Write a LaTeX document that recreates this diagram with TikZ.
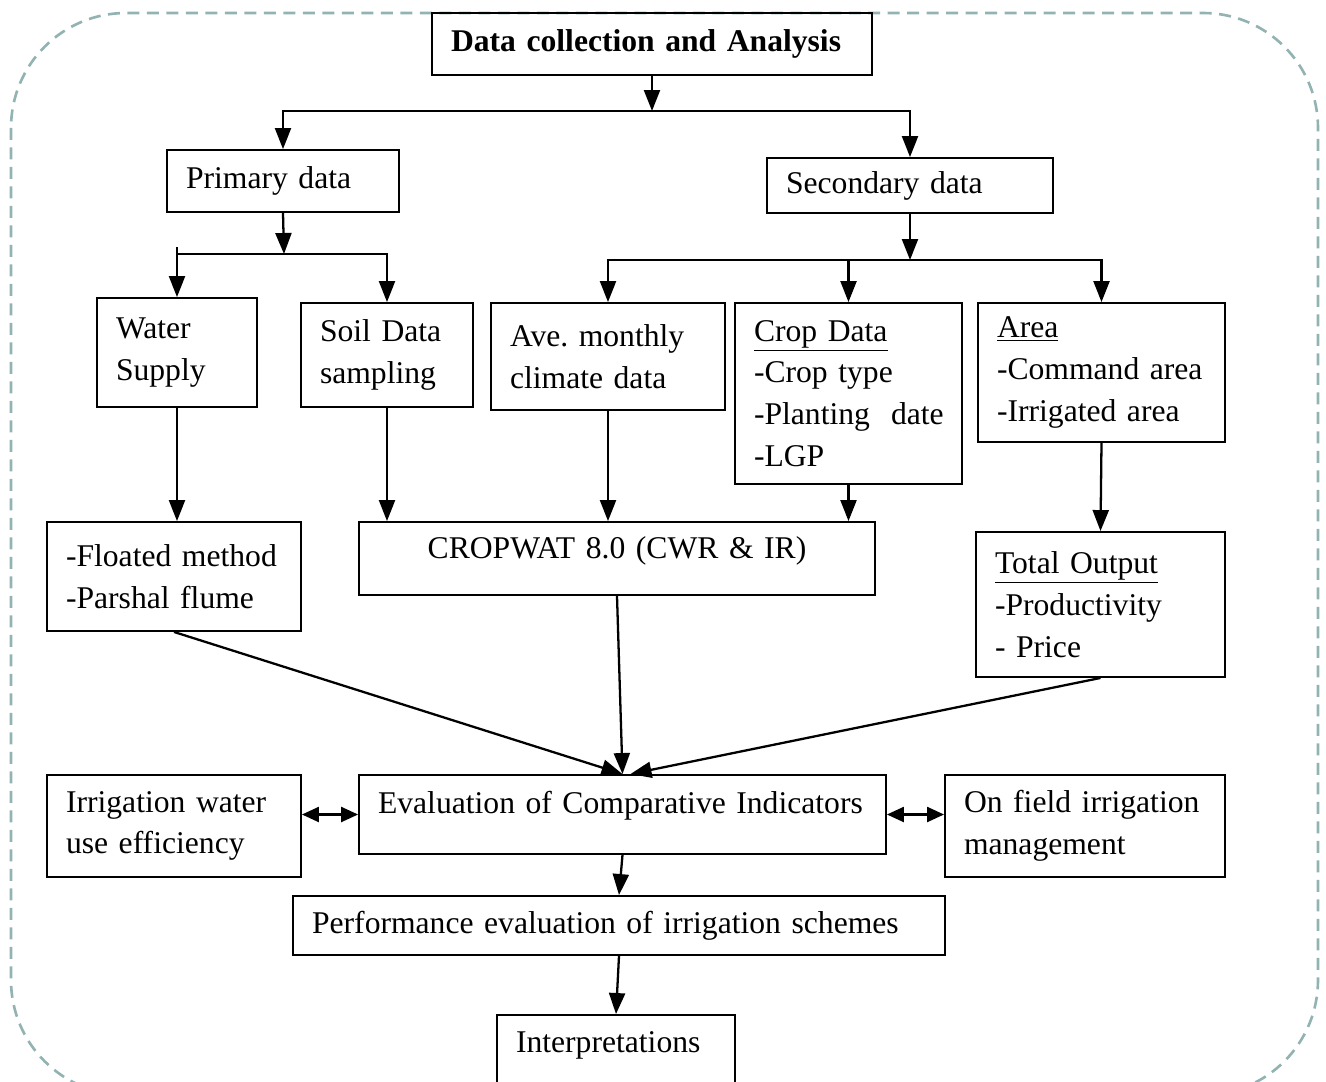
\documentclass[tikz,border=0pt]{standalone}
\usepackage{fontspec}
\setmainfont{Liberation Serif}
\usepackage{xcolor}
\usepackage{tikz}
\usetikzlibrary{arrows.meta, calc}

\definecolor{framegray}{RGB}{147,179,179}

\begin{document}
\begin{tikzpicture}[
    x=0.02cm, y=-0.02cm,
    box/.style={rectangle, draw=black, line width=1.1pt, inner xsep=0.38cm, inner ysep=0pt, align=left, font=\fontsize{18}{23.8}\selectfont\frenchspacing},
    line/.style={line width=1.3pt, draw=black},
    arrow/.style={line, -{Triangle[length=0.42cm, width=0.32cm]}},
    twoway/.style={line, {Triangle[length=0.34cm, width=0.3cm]}-{Triangle[length=0.34cm, width=0.3cm]}},
    frame/.style={draw=framegray, line width=1.5pt, dash pattern=on 0.24cm off 0.15cm, rounded corners=2.3cm}
]
\useasboundingbox (0,0) rectangle (1326,1082);

% Frame
\draw[frame] (11,13) rectangle (1318,1095);

% Nodes
\node[box, minimum width=8.8cm, minimum height=1.24cm, text width=8.04cm] (data) at (652,44) {\textbf{Data collection and Analysis}};
\node[box, minimum width=4.64cm, minimum height=1.24cm, text width=3.88cm] (prim) at (283,181) {Primary data};
\node[box, minimum width=5.72cm, minimum height=1.1cm, text width=4.96cm] (sec) at (910,185.5) {Secondary data};
\node[box, minimum width=3.2cm, minimum height=2.18cm, text width=2.44cm] (water) at (177,352.5) {Water\\Supply};
\node[box, minimum width=3.44cm, minimum height=2.08cm, text width=2.68cm] (soil) at (387,355) {Soil Data\\sampling};
\node[box, minimum width=4.68cm, minimum height=2.14cm, text width=3.92cm] (clim) at (608,356.5) {Ave. monthly\\climate data};
\node[box, minimum width=4.54cm, minimum height=3.62cm, text width=3.78cm] (crop) at (848.5,393.5) {\underline{Crop Data}\\-Crop type\\\mbox{-Planting~~date}\\-LGP};
\node[box, minimum width=4.94cm, minimum height=2.78cm, text width=4.18cm] (area) at (1101.5,372.5) {\underline{Area}\\\mbox{-Command area}\\\mbox{-Irrigated area}};
\node[box, minimum width=5.08cm, minimum height=2.18cm, text width=4.32cm] (flow) at (174,576.5) {\mbox{-Floated method}\\\mbox{-Parshal flume}};
\node[box, minimum width=10.32cm, minimum height=1.46cm, text width=9.56cm, align=center, text depth=0.42cm] (cwat) at (617,558.5) {CROPWAT 8.0 (CWR \& IR)};
\node[box, minimum width=4.98cm, minimum height=2.9cm, text width=4.22cm] (total) at (1100.5,604.5) {\underline{Total Output}\\-Productivity\\- Price};
\node[box, minimum width=5.08cm, minimum height=2.04cm, text width=4.32cm] (irr) at (174,826) {Irrigation~water\\use efficiency};
\node[box, minimum width=10.54cm, minimum height=1.58cm, text width=9.78cm, text depth=0.48cm] (eval) at (622.5,814.5) {Evaluation of Comparative Indicators};
\node[box, minimum width=5.6cm, minimum height=2.04cm, text width=4.84cm] (onf) at (1085,826) {On field irrigation\\management};
\node[box, minimum width=13.04cm, minimum height=1.18cm, text width=12.28cm] (perf) at (619,925.5) {Performance evaluation of irrigation schemes};
\node[box, minimum width=4.76cm, minimum height=1.5cm, text width=4.0cm, text depth=0.4cm] (interp) at (616,1052.5) {Interpretations};

% Junctions
\coordinate (jdata) at (652,111);
\coordinate (jprim) at (284,254);
\coordinate (jstub) at (177,247);
\coordinate (jsec) at (910,260);

% Arrows
\draw[arrow] (data.south) -- (jdata);
\draw[arrow] (jdata) -| (prim.north);
\draw[arrow] (jdata) -| (sec.north);
\draw[arrow] (prim.south) -- (jprim);
\draw[arrow] (jstub) -- (water.north);
\draw[arrow] (water.north |- jprim) -| (soil.north);
\draw[arrow] (sec.south) -- (jsec);
\draw[arrow] (jsec) -| (clim.north);
\draw[arrow] (jsec -| crop.north) -- (crop.north);
\draw[arrow] (jsec) -| (area.north);

\draw[arrow] (water.south) -- (water.south |- flow.north);
\draw[arrow] (soil.south) -- (soil.south |- cwat.north);
\draw[arrow] (clim.south) -- (clim.south |- cwat.north);
\draw[arrow] (crop.south) -- (crop.south |- cwat.north);
\draw[arrow] (area.south) -- (total.north);

\draw[arrow] (flow.south) -- (eval.north);
\draw[arrow] (cwat.south) -- (eval.north);
\draw[arrow] (total.south) -- ([xshift=0.16cm]eval.north);
\draw[twoway] (irr.east |- eval.west) -- (eval.west);
\draw[twoway] (eval.east) -- (onf.west |- eval.east);
\draw[arrow] (eval.south) -- (perf.north);
\draw[arrow] (perf.south) -- (interp.north);

\end{tikzpicture}
\end{document}
